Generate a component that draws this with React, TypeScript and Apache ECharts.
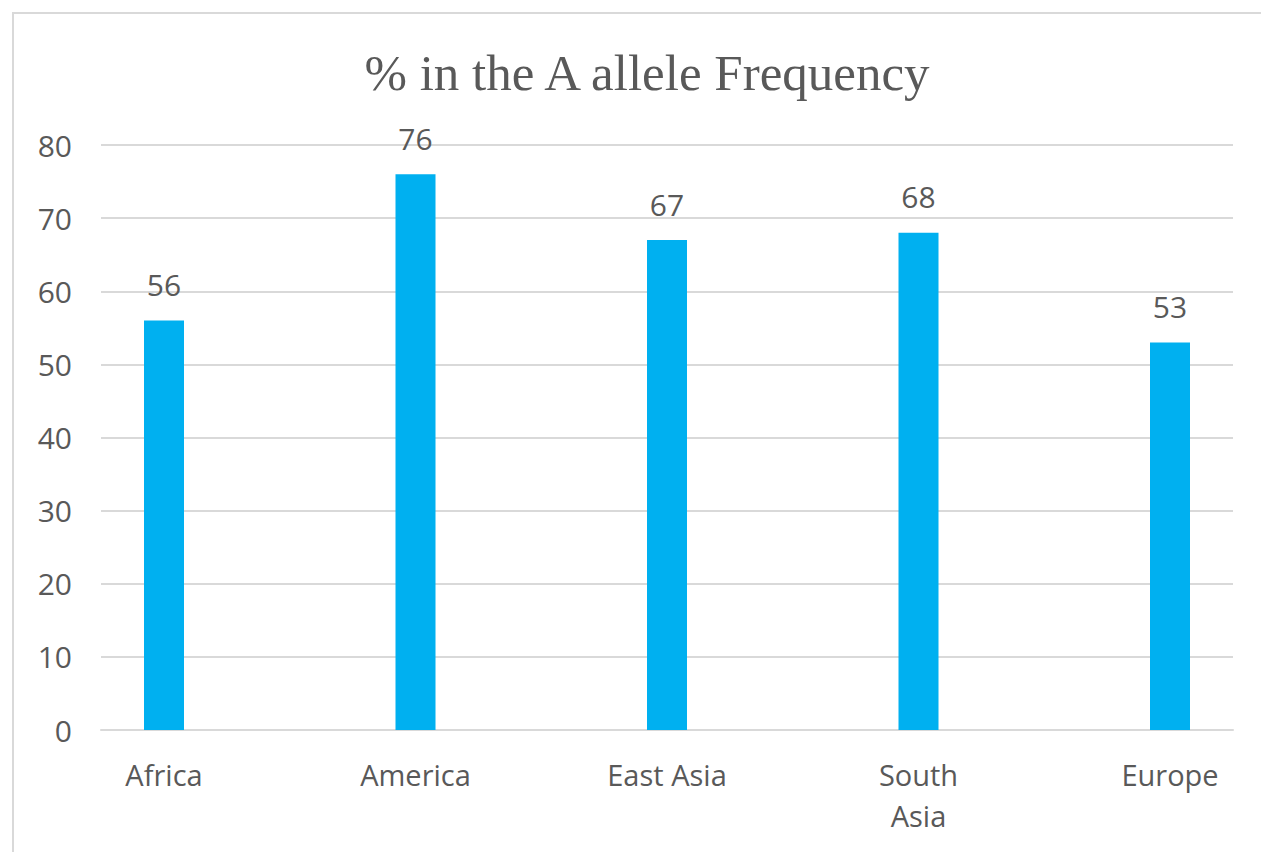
import React, { useEffect, useRef } from "react";
import * as echarts from "echarts";

const categories = ["Africa", "America", "East Asia", "South\nAsia", "Europe"];
const values = [56, 76, 67, 68, 53];
const yTicks = { min: 0, max: 80, interval: 10 };
const titleText = "% in the A allele Frequency";

export default function App() {
  const ref = useRef<HTMLDivElement>(null);
  useEffect(() => {
    const chart = echarts.init(ref.current!, null, { renderer: "svg" });
    const top = 145;
    const bottom = 852 - 730;
    chart.setOption({
      animation: false,
      backgroundColor: "#ffffff",
      title: {
        text: titleText,
        left: 642,
        textAlign: "center",
        top: 42,
        textStyle: {
          fontFamily: "Liberation Serif",
          fontSize: 51,
          fontWeight: "normal",
          color: "#595959",
        },
      },
      graphic: [
        {
          type: "rect",
          shape: { x: 13, y: 13, width: 1260, height: 850 },
          style: { fill: "none", stroke: "#d9d9d9", lineWidth: 2 },
          silent: true,
        },
      ],
      grid: [
        { left: 101, right: 1261 - 1233, top, bottom },
        { left: 164, right: 1261 - 1170, top, bottom },
      ],
      xAxis: [
        {
          type: "value",
          gridIndex: 0,
          min: 0,
          max: 1,
          axisLine: { show: true, onZero: false, lineStyle: { color: "#d9d9d9", width: 2 } },
          axisTick: { show: false },
          axisLabel: { show: false },
          splitLine: { show: false },
        },
        {
          type: "category",
          gridIndex: 1,
          data: categories,
          boundaryGap: false,
          axisLine: { show: false },
          axisTick: { show: false },
          splitLine: { show: false },
          axisLabel: {
            margin: 24,
            fontFamily: "Open Sans",
            fontSize: 29,
            color: "#595959",
            lineHeight: 41,
            interval: 0,
          },
        },
      ],
      yAxis: [
        {
          type: "value",
          gridIndex: 0,
          ...yTicks,
          axisLine: { show: false },
          axisTick: { show: false },
          splitLine: { lineStyle: { color: "#d9d9d9", width: 2 } },
          axisLabel: {
            margin: 29,
            fontFamily: "Open Sans",
            fontSize: 30,
            color: "#595959",
          },
        },
        {
          type: "value",
          gridIndex: 1,
          ...yTicks,
          show: false,
          splitLine: { show: false },
        },
      ],
      series: [
        {
          type: "bar",
          xAxisIndex: 1,
          yAxisIndex: 1,
          data: values,
          barWidth: 40,
          itemStyle: { color: "#00B0F0" },
          label: {
            show: true,
            position: "top",
            distance: 21,
            fontFamily: "Open Sans",
            fontSize: 30,
            color: "#595959",
          },
        },
      ],
    });
    return () => chart.dispose();
  }, []);
  return (
    <div
      ref={ref}
      style={{ position: "absolute", left: 0, top: 0, width: 1261, height: 852 }}
    />
  );
}
